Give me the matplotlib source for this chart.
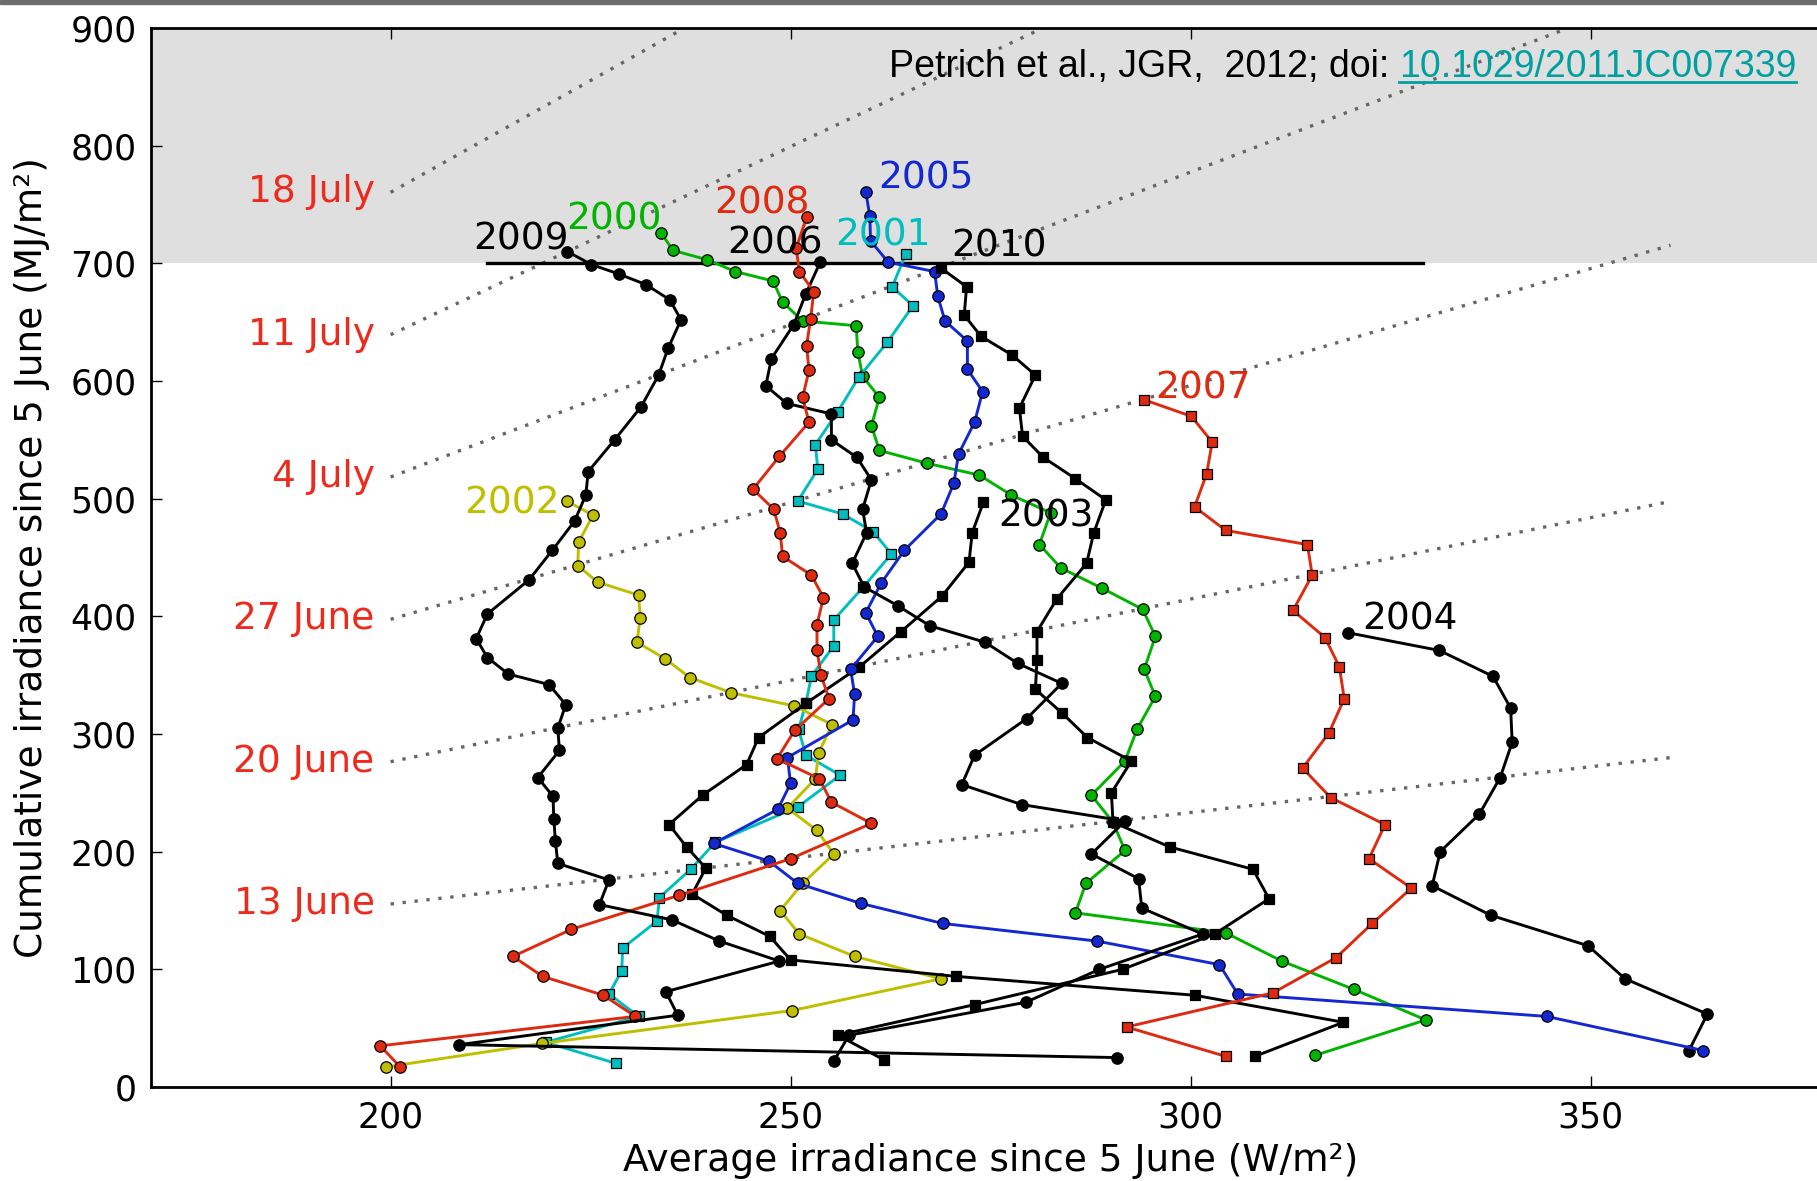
import matplotlib
matplotlib.use('Agg')
import matplotlib.pyplot as plt
from matplotlib.patches import Rectangle
import numpy as np

# ---------------- data ----------------
x2000 = [315.6, 329.4, 320.4, 311.4, 304.4, 285.6, 286.9, 291.8, 290.3, 287.6, 291.8, 293.3,
         295.6, 294.2, 295.6, 294.0, 288.9, 283.8, 281.1, 282.5, 277.6, 273.6, 267.1, 261.1,
         260.1, 261.1, 259.0, 258.4, 258.2, 251.5, 249.0, 247.8, 243.1, 239.6, 235.3, 233.8]
y2000 = [27, 57, 83, 107, 131, 148, 173, 201, 225, 248, 277, 304, 332, 355, 383, 406, 424, 441,
         461, 488, 503, 520, 530, 541, 562, 586, 604, 625, 647, 651, 667, 685, 693, 703, 711, 726]

x2001 = [228.2, 219.4, 231.0, 227.3, 228.9, 229.0, 233.3, 233.6, 237.5, 240.6, 250.9, 256.2,
         251.9, 251.0, 251.9, 252.6, 255.4, 255.4, 259.1, 262.6, 260.3, 256.5, 250.9, 253.4,
         253.1, 255.9, 258.5, 262.1, 265.3, 262.7, 264.4]
y2001 = [20, 38, 60, 79, 99, 118, 141, 161, 185, 208, 238, 265, 282, 304, 326, 349, 375, 397,
         425, 453, 472, 487, 498, 525, 546, 574, 603, 633, 664, 680, 708]

x2002 = [199.4, 218.9, 250.2, 268.8, 258.0, 251.1, 248.7, 251.5, 255.4, 253.3, 249.6, 253.1,
         253.5, 255.2, 250.4, 242.6, 237.4, 234.3, 230.8, 231.2, 231.0, 225.9, 223.4, 223.5,
         225.3, 222.0]
y2002 = [17, 37, 65, 92, 111, 130, 150, 173, 198, 218, 237, 262, 284, 308, 324, 335, 348, 364,
         378, 399, 418, 429, 443, 463, 486, 498]

x2003 = [308.0, 319.1, 300.5, 270.7, 250.0, 247.4, 242.0, 237.7, 239.4, 237.0, 234.8, 239.0,
         244.5, 246.0, 251.9, 258.6, 263.8, 268.9, 272.3, 272.7, 274.1]
y2003 = [26, 55, 78, 94, 108, 128, 146, 164, 186, 204, 223, 248, 274, 297, 326, 357, 387, 417,
         446, 471, 497]

x2004 = [362.3, 364.6, 354.3, 349.7, 337.5, 330.2, 331.2, 336.1, 338.7, 340.2, 340.0, 337.8,
         331.1, 319.7]
y2004 = [31, 62, 92, 120, 146, 171, 200, 232, 263, 293, 322, 349, 371, 386]

x2005 = [364.1, 344.5, 305.9, 303.6, 288.3, 269.0, 258.8, 250.9, 247.3, 240.4, 248.4, 250.0,
         249.6, 257.8, 258.0, 257.5, 260.9, 259.4, 261.3, 264.2, 268.8, 270.4, 271.0, 273.0,
         274.0, 272.1, 272.1, 269.3, 268.4, 268.0, 262.2, 260.0, 259.9, 259.4]
y2005 = [31, 60, 79, 104, 124, 139, 156, 173, 192, 207, 236, 258, 280, 312, 334, 355, 383, 403,
         428, 456, 487, 513, 538, 565, 591, 610, 634, 651, 672, 693, 701, 719, 740, 761]

x2006 = [255.4, 257.3, 279.4, 288.6, 301.5, 293.9, 293.5, 287.6, 291.8, 278.9, 271.4, 273.0,
         279.5, 283.9, 278.4, 274.3, 267.4, 263.4, 259.2, 257.7, 259.5, 259.0, 260.1, 258.3,
         255.1, 255.1, 249.5, 246.9, 247.6, 250.4, 251.9, 253.7]
y2006 = [22, 44, 72, 100, 130, 152, 177, 198, 226, 240, 257, 282, 313, 343, 360, 378, 392, 409,
         425, 445, 471, 491, 516, 535, 550, 572, 581, 596, 619, 648, 674, 701]

x2007 = [304.4, 292.0, 310.3, 318.2, 322.7, 327.6, 322.3, 324.3, 317.5, 314.0, 317.3, 319.2,
         318.6, 316.8, 312.8, 315.2, 314.6, 304.4, 300.5, 302.0, 302.7, 300.1, 294.2]
y2007 = [26, 51, 80, 110, 139, 169, 194, 223, 246, 271, 301, 330, 357, 382, 405, 435, 461, 473,
         493, 521, 548, 570, 584]

x2008 = [201.2, 198.7, 230.6, 226.6, 219.0, 215.3, 222.6, 236.1, 250.0, 260.1, 255.1, 253.6,
         248.3, 250.5, 254.8, 253.8, 253.3, 253.3, 254.1, 252.6, 249.0, 248.7, 247.9, 245.3,
         248.6, 252.3, 251.5, 252.3, 252.0, 252.5, 252.9, 251.1, 250.7, 252.0]
y2008 = [17, 35, 60, 78, 94, 111, 134, 163, 194, 224, 242, 262, 279, 303, 330, 350, 371, 393,
         416, 435, 451, 471, 491, 508, 536, 565, 586, 609, 630, 653, 676, 693, 713, 739]

x2009 = [290.8, 208.6, 235.9, 234.4, 248.6, 241.1, 235.2, 226.1, 227.3, 220.9, 220.6, 220.4,
         220.3, 218.4, 221.1, 220.9, 221.9, 219.8, 214.7, 212.1, 210.7, 212.1, 217.3, 220.2,
         223.0, 224.4, 224.7, 228.0, 231.3, 233.5, 234.7, 236.3, 234.9, 231.9, 228.5, 225.1, 222.1]
y2009 = [25, 36, 61, 81, 107, 124, 142, 155, 176, 190, 209, 228, 247, 263, 286, 305, 325, 342,
         351, 365, 381, 402, 431, 456, 481, 503, 523, 550, 578, 605, 628, 652, 669, 682, 691, 699, 710]

x2010 = [261.7, 255.9, 273.0, 291.5, 303.0, 309.8, 307.8, 297.4, 290.3, 290.1, 292.6, 287.1,
         283.9, 280.6, 280.8, 280.8, 283.3, 287.0, 287.9, 289.4, 285.6, 281.6, 279.0, 278.6,
         280.6, 277.7, 273.8, 271.7, 272.0, 268.8]
y2010 = [23, 44, 70, 100, 130, 160, 185, 204, 225, 250, 277, 297, 318, 338, 363, 387, 415, 445,
         471, 499, 517, 535, 553, 577, 605, 622, 638, 656, 680, 696]

years = ['2000', '2001', '2002', '2003', '2004', '2005', '2006', '2007', '2008', '2009', '2010']
xs_all = [x2000, x2001, x2002, x2003, x2004, x2005, x2006, x2007, x2008, x2009, x2010]
ys_all = [y2000, y2001, y2002, y2003, y2004, y2005, y2006, y2007, y2008, y2009, y2010]

# label positions of the year names (data coordinates)
label_x = [227.9, 261.5, 215.2, 281.9, 327.4, 266.9, 248.0, 301.6, 246.4, 216.3, 276.0]
label_y = [737.5, 724.0, 495.5, 485.0, 397.5, 772.0, 716.5, 594.0, 750.5, 720.5, 714.5]

# iso-date lines: days since 5 June
date_labels = ['13 June', '20 June', '27 June', '4 July', '11 July', '18 July']
date_days = [9, 16, 23, 30, 37, 44]
MJ_PER_WDAY = 0.0864  # 1 W/m^2 over one day = 0.0864 MJ/m^2

# ---------------- style ----------------
RED = '#dd2a10'
GREEN = '#00b400'
BLUE = '#1428d2'
CYAN = '#00bebe'
YELLOW = '#bfbf00'
BLACK = '#000000'
colors = {'2000': GREEN, '2001': CYAN, '2002': YELLOW, '2003': BLACK, '2004': BLACK,
          '2005': BLUE, '2006': BLACK, '2007': RED, '2008': RED, '2009': BLACK, '2010': BLACK}
markers = {'2000': 'o', '2001': 's', '2002': 'o', '2003': 's', '2004': 'o',
           '2005': 'o', '2006': 'o', '2007': 's', '2008': 'o', '2009': 'o', '2010': 's'}

W, H = 1817, 1181
fig = plt.figure(figsize=(W / 100, H / 100), dpi=100)
ax = fig.add_axes([150.6 / W, (H - 1087) / H, 1680 / W, 1059 / H])
ax.set_xlim(170, 380)
ax.set_ylim(0, 900)

# dark strip at the very top of the picture
fig.patches.append(Rectangle((0, 1 - 4 / H), 1, 4 / H, transform=fig.transFigure,
                             color='#6e6e6e', zorder=10))

ax.axhspan(700, 900, color='#dfdfdf', zorder=0, lw=0)
ax.plot([212, 329], [700, 700], color='k', lw=2.4, zorder=2)

for lab, d in zip(date_labels, date_days):
    lx = np.array([200.0, 360.0])
    ax.plot(lx, lx * d * MJ_PER_WDAY, color='#666666', lw=2.4,
            linestyle=(0, (1, 2.6)), zorder=1)
    ax.text(198, 200 * d * MJ_PER_WDAY, lab, ha='right', va='center',
            color='#ee2a1c', fontsize=27)

for yr, xs, ys in zip(years, xs_all, ys_all):
    c = colors[yr]
    m = markers[yr]
    ax.plot(xs, ys, '-', color=c, lw=2.1, marker=m, ms=8.2 if m == 'o' else 7.4,
            mfc=c, mec='k', mew=0.9, zorder=3)

for yr, lx, ly in zip(years, label_x, label_y):
    ax.text(lx, ly, yr, ha='center', va='center', color=colors[yr], fontsize=27, zorder=5)

ax.set_xticks([200, 250, 300, 350])
ax.set_yticks(range(0, 1000, 100))
ax.tick_params(direction='in', length=8, width=1, top=True, right=True,
               labelsize=25, pad=10)
for s in ax.spines.values():
    s.set_linewidth(2)
ax.set_xlabel('Average irradiance since 5 June (W/m²)', fontsize=27, labelpad=6)
ax.set_ylabel('Cumulative irradiance since 5 June (MJ/m²)', fontsize=27, labelpad=15)

# citation with underlined doi
TEAL = '#00a0a0'
fig.canvas.draw()
r = fig.canvas.get_renderer()
t2 = ax.text(375.7, 867, '10.1029/2011JC007339', ha='right', va='center', color=TEAL,
             fontsize=27, family='Liberation Sans', zorder=6)
bb = t2.get_window_extent(renderer=r)
inv = ax.transData.inverted()
x_left = inv.transform((bb.x0 - 10, bb.y0))[0]
x_l2 = inv.transform((bb.x0, bb.y0))[0]
x_r2 = inv.transform((bb.x1, bb.y0))[0]
ax.text(x_left, 867, 'Petrich et al., JGR,  2012; doi:', ha='right', va='center', color='k',
        fontsize=27, family='Liberation Sans', zorder=6)
ax.plot([x_l2, x_r2], [854, 854], color=TEAL, lw=2, zorder=6)

fig.savefig('out.png', dpi=100)
